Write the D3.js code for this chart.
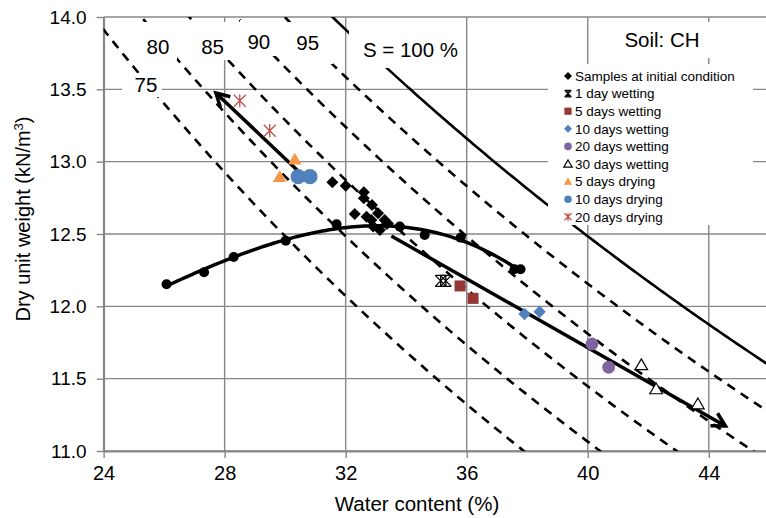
<!DOCTYPE html>
<html><head><meta charset="utf-8">
<script src="https://cdn.jsdelivr.net/npm/d3@7"></script>
<style>body{margin:0;background:#fff;overflow:hidden} svg{display:block;font-family:"Liberation Sans",Arial,sans-serif}</style>
</head><body><svg id="c" width="766" height="518"></svg>
<script>
// ---- data ----
const xTicks = [24, 28, 32, 36, 40, 44];
const yTicks = [11.0, 11.5, 12.0, 12.5, 13.0, 13.5, 14.0];
const satLevels = [75, 80, 85, 90, 95, 100];
const Gs = 2.636, gammaW = 9.73;

const compW = [26.08, 27.32, 28.30, 30.02, 31.70, 33.79, 34.61, 35.80, 37.58, 37.78];
const compG = [12.153, 12.236, 12.341, 12.454, 12.567, 12.551, 12.493, 12.475, 12.256, 12.256];

const initW = [31.56, 32.00, 32.60, 32.60, 32.30, 32.87, 33.07, 32.69, 32.85, 33.29, 32.91, 33.13, 33.36];
const initG = [12.858, 12.834, 12.789, 12.747, 12.639, 12.701, 12.643, 12.620, 12.597, 12.597, 12.551, 12.528, 12.569];

const wet1W = [35.14, 35.31], wet1G = [12.176, 12.176];
const wet5W = [35.78, 36.21], wet5G = [12.141, 12.055];
const wet10W = [37.91, 38.41], wet10G = [11.947, 11.963];
const wet20W = [40.14, 40.69], wet20G = [11.740, 11.579];
const wet30W = [41.77, 42.26, 43.64], wet30G = [11.595, 11.429, 11.325];
const dry5W = [30.32, 29.82], dry5G = [13.017, 12.896];
const dry10W = [30.43, 30.82], dry10G = [12.896, 12.896];
const dry20W = [28.50, 29.49], dry20G = [13.421, 13.214];

const arrowDryW = [30.82, 27.71], arrowDryG = [12.858, 13.475];
const arrowWetW = [33.51, 44.55], arrowWetG = [12.486, 11.173];

const legendLabels = ["Samples at initial condition", "1 day wetting", "5 days wetting", "10 days wetting",
  "20 days wetting", "30 days wetting", "5 days drying", "10 days drying", "20 days drying"];

// ---- setup ----
const svg = d3.select("#c");
const x = d3.scaleLinear().domain([24, 46]).range([103.6, 769.3]);
const y = d3.scaleLinear().domain([11, 14]).range([451, 17]);
const W = 766;
const gridCol = "#878787";

svg.append("defs").append("clipPath").attr("id", "clip")
  .append("rect").attr("x", x(24)).attr("y", y(14)).attr("width", W - x(24)).attr("height", y(11) - y(14));

// gridlines
const grid = svg.append("g");
grid.selectAll("line.v").data(xTicks).join("line")
  .attr("x1", d => x(d)).attr("x2", d => x(d)).attr("y1", y(14)).attr("y2", y(11))
  .attr("stroke", gridCol).attr("stroke-width", 1.4);
grid.selectAll("line.h").data(yTicks).join("line")
  .attr("x1", x(24)).attr("x2", W).attr("y1", d => y(d)).attr("y2", d => y(d))
  .attr("stroke", gridCol).attr("stroke-width", 1.4);

// axes
const xAxis = svg.append("g").attr("transform", `translate(0,${y(11)})`)
  .call(d3.axisBottom(x).tickValues(xTicks).tickSize(7).tickSizeOuter(0).tickPadding(8).tickFormat(d3.format("d")));
xAxis.select(".domain").attr("stroke", gridCol).attr("stroke-width", 2);
xAxis.selectAll(".tick line").attr("stroke", gridCol).attr("stroke-width", 1.4);
xAxis.selectAll("text").attr("font-size", 20).attr("fill", "#000").attr("font-family", "Liberation Sans, Arial, sans-serif");

const yAxis = svg.append("g").attr("transform", `translate(${x(24)},0)`)
  .call(d3.axisLeft(y).tickValues(yTicks).tickSize(7).tickSizeOuter(0).tickPadding(10).tickFormat(d3.format(".1f")));
yAxis.select(".domain").attr("stroke", gridCol).attr("stroke-width", 2);
yAxis.selectAll(".tick line").attr("stroke", gridCol).attr("stroke-width", 1.4);
yAxis.selectAll("text").attr("font-size", 19).attr("fill", "#000").attr("font-family", "Liberation Sans, Arial, sans-serif");

// axis titles
svg.append("text").attr("x", 417).attr("y", 511).attr("text-anchor", "middle")
  .attr("font-size", 20.5).text("Water content (%)");
const yt = svg.append("text").attr("transform", "translate(30,219) rotate(-90)")
  .attr("text-anchor", "middle").attr("font-size", 20);
yt.append("tspan").text("Dry unit weight (kN/m");
yt.append("tspan").attr("baseline-shift", "super").attr("font-size", 13).text("3");
yt.append("tspan").text(")");

// saturation lines
const plot = svg.append("g").attr("clip-path", "url(#clip)");
const wSamples = d3.range(230, 470, 1).map(v => v / 10);
const satLine = S => wSamples.map(w => [w, Gs * gammaW / (1 + (w / 100) * Gs / (S / 100))]);
const line = d3.line().x(d => x(d[0])).y(d => y(d[1]));
plot.selectAll("path.sat").data(satLevels).join("path")
  .attr("d", S => line(satLine(S)))
  .attr("fill", "none").attr("stroke", "#000").attr("stroke-width", 2.6)
  .attr("stroke-dasharray", S => S === 100 ? null : "9,7");

// label boxes (white backgrounds)
const boxes = [[122, 73, 40, 24], [143, 22, 34, 38], [194, 22, 36, 38], [240, 20, 36, 36], [287, 22, 46, 42], [349, 28, 115, 40]];
svg.selectAll("rect.lb").data(boxes).join("rect")
  .attr("x", d => d[0]).attr("y", d => d[1]).attr("width", d => d[2]).attr("height", d => d[3]).attr("fill", "#fff");
const satLabelPos = [[146, 91.7, "75"], [158, 54.3, "80"], [212.6, 54.3, "85"], [258.8, 49, "90"], [307.7, 50, "95"], [410.5, 56.7, "S = 100 %"]];
svg.selectAll("text.sl").data(satLabelPos).join("text")
  .attr("x", d => d[0]).attr("y", d => d[1]).attr("text-anchor", "middle").attr("font-size", 20.5).text(d => d[2]);

// Soil box
svg.append("rect").attr("x", 612).attr("y", 22).attr("width", 108).attr("height", 36).attr("fill", "#fff");
svg.append("text").attr("x", 662).attr("y", 46.7).attr("text-anchor", "middle").attr("font-size", 20.5).text("Soil: CH");

// compaction curve: cubic least-squares trend through the compaction points
function polyfit(xs, ys, deg) {
  const n = deg + 1, m = xs.length, mx = d3.mean(xs);
  const A = Array.from({length: n}, () => new Array(n + 1).fill(0));
  for (let k = 0; k < m; k++) {
    const t = xs[k] - mx;
    for (let i = 0; i < n; i++) {
      for (let j = 0; j < n; j++) A[i][j] += Math.pow(t, i + j);
      A[i][n] += ys[k] * Math.pow(t, i);
    }
  }
  for (let i = 0; i < n; i++) {
    let p = i; for (let r = i + 1; r < n; r++) if (Math.abs(A[r][i]) > Math.abs(A[p][i])) p = r;
    [A[i], A[p]] = [A[p], A[i]];
    for (let r = 0; r < n; r++) if (r !== i) { const f = A[r][i] / A[i][i]; for (let c = i; c <= n; c++) A[r][c] -= f * A[i][c]; }
  }
  const coef = A.map((row, i) => row[n] / row[i]);
  return w => coef.reduce((s, c, i) => s + c * Math.pow(w - mx, i), 0);
}
const fit = polyfit(compW, compG, 3);
const wMin = d3.min(compW), wMax = d3.max(compW);
const fitPts = d3.range(0, 101).map(i => { const w = wMin + (wMax - wMin) * i / 100; return [w, fit(w)]; });
svg.append("path").attr("d", line(fitPts)).attr("fill", "none").attr("stroke", "#000").attr("stroke-width", 3.5);
svg.selectAll("circle.comp").data(compW).join("circle")
  .attr("cx", (d) => x(d)).attr("cy", (d, i) => y(compG[i])).attr("r", 5).attr("fill", "#000");

// arrows
function arrow(ws, gs) {
  const x1 = x(ws[0]), y1 = y(gs[0]), x2 = x(ws[1]), y2 = y(gs[1]);
  const a = Math.atan2(y2 - y1, x2 - x1), L = 15, sp = 0.5;
  svg.append("path").attr("d", `M${x1},${y1}L${x2},${y2}`).attr("stroke", "#000").attr("stroke-width", 3.5).attr("fill", "none");
  const p1 = [x2 - L * Math.cos(a - sp), y2 - L * Math.sin(a - sp)];
  const p2 = [x2 - L * Math.cos(a + sp), y2 - L * Math.sin(a + sp)];
  svg.append("path").attr("d", `M${p1}L${x2},${y2}L${p2}`).attr("stroke", "#000").attr("stroke-width", 3.5)
    .attr("fill", "none").attr("stroke-linejoin", "miter");
}
arrow(arrowDryW, arrowDryG);
arrow(arrowWetW, arrowWetG);

// marker drawers
const M = {
  diamond: (g, cx, cy, s, fill) => g.append("path").attr("d", `M${cx},${cy - s}L${cx + s},${cy}L${cx},${cy + s}L${cx - s},${cy}Z`).attr("fill", fill),
  square: (g, cx, cy, s, fill) => g.append("rect").attr("x", cx - s).attr("y", cy - s).attr("width", 2 * s).attr("height", 2 * s).attr("fill", fill),
  circle: (g, cx, cy, s, fill) => g.append("circle").attr("cx", cx).attr("cy", cy).attr("r", s).attr("fill", fill),
  tri: (g, cx, cy, s, fill, stroke) => g.append("path").attr("d", `M${cx},${cy - s}L${cx + s * 1.05},${cy + s * 0.8}L${cx - s * 1.05},${cy + s * 0.8}Z`)
    .attr("fill", fill).attr("stroke", stroke || "none").attr("stroke-width", 1.2),
  star: (g, cx, cy, s, fill) => g.append("path").attr("d",
      `M${cx - s},${cy - s}L${cx + s},${cy + s}M${cx + s},${cy - s}L${cx - s},${cy + s}M${cx},${cy - s * 1.1}L${cx},${cy + s * 1.1}`)
    .attr("stroke", fill).attr("stroke-width", 1.3).attr("fill", "none"),
  xbar: (g, cx, cy, s, fill) => g.append("path").attr("d",
      `M${cx - s},${cy - s}L${cx + s},${cy + s}M${cx + s},${cy - s}L${cx - s},${cy + s}M${cx - s},${cy - s}L${cx + s},${cy - s}M${cx - s},${cy + s}L${cx + s},${cy + s}M${cx},${cy - s}L${cx},${cy + s}`)
    .attr("stroke", fill).attr("stroke-width", 1.3).attr("fill", "none")
};
const mk = svg.append("g");
function series(ws, gs, type, s, fill, stroke) { ws.forEach((w, i) => M[type](mk, x(w), y(gs[i]), s, fill, stroke)); }
series(initW, initG, "diamond", 6, "#000");
series(wet1W, wet1G, "xbar", 5.5, "#000");
series(wet5W, wet5G, "square", 5.5, "#953735");
series(wet10W, wet10G, "diamond", 6.2, "#4F81BD");
series(wet20W, wet20G, "circle", 6.4, "#8064A2");
series(wet30W, wet30G, "tri", 6, "#fff", "#000");
series(dry5W, dry5G, "tri", 6.5, "#F79646");
series(dry10W, dry10G, "circle", 7.6, "#4F81BD");
series(dry20W, dry20G, "star", 6, "#C0504D");

// legend
const lg = svg.append("g");
lg.append("rect").attr("x", 548).attr("y", 64).attr("width", 205).attr("height", 161).attr("fill", "#fff");
const legSpec = [["diamond", 4, "#000"], ["xbar", 3.3, "#000"], ["square", 3.6, "#953735"], ["diamond", 4, "#4F81BD"],
  ["circle", 3.8, "#8064A2"], ["tri", 4, "#fff", "#000"], ["tri", 4, "#F79646"], ["circle", 3.8, "#4F81BD"], ["star", 3.5, "#C0504D"]];
legendLabels.forEach((t, i) => {
  const cy = 76 + i * 17.6;
  const sp = legSpec[i];
  M[sp[0]](lg, 568, cy, sp[1], sp[2], sp[3]);
  lg.append("text").attr("x", 575).attr("y", cy).attr("dy", "0.36em").attr("font-size", 13.5).text(t);
});
</script></body></html>
